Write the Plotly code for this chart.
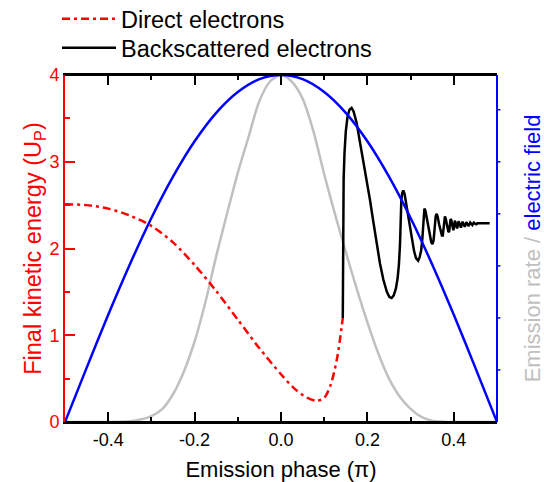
import plotly.graph_objects as go

# ---- data (left-axis units) ----
# Direct electrons: final kinetic energy (Up) vs emission phase (pi)
direct_phase = [-0.5, -0.45, -0.4, -0.35, -0.3, -0.25, -0.2, -0.15, -0.1, -0.05,
                0.0, 0.03, 0.06, 0.083, 0.1, 0.115, 0.13, 0.143]
direct_energy = [2.51, 2.50, 2.46, 2.38, 2.26, 2.07, 1.81, 1.51, 1.18, 0.85,
                 0.55, 0.39, 0.28, 0.245, 0.28, 0.43, 0.74, 1.20]

# Backscattered electrons
back_phase = [0.1430, 0.1432, 0.1438, 0.1450, 0.1470, 0.1500, 0.1540, 0.1585, 0.1635, 0.168,
              0.175, 0.183, 0.190, 0.198, 0.206, 0.214, 0.221, 0.229, 0.237, 0.245,
              0.251, 0.256, 0.261, 0.266, 0.270, 0.273, 0.2755, 0.2770, 0.2785, 0.2805,
              0.283, 0.2860, 0.2905, 0.296, 0.302, 0.308, 0.3125, 0.3175, 0.321, 0.3245,
              0.327, 0.3285, 0.3300, 0.332, 0.3345, 0.3375, 0.341, 0.3445, 0.348, 0.3507,
              0.353, 0.3548, 0.3565, 0.358, 0.360, 0.3625, 0.366, 0.3695, 0.3725, 0.3745,
              0.3765, 0.3780, 0.3795, 0.3815, 0.385, 0.3875, 0.3895, 0.391, 0.3925, 0.394,
              0.397, 0.399, 0.4005, 0.4025, 0.405, 0.4075, 0.409, 0.411, 0.4135, 0.4165,
              0.418, 0.4200, 0.4225, 0.4255, 0.427, 0.429, 0.4315, 0.4345, 0.436, 0.438,
              0.4405, 0.443, 0.4445, 0.4465, 0.449, 0.452, 0.455, 0.46, 0.47, 0.483]
back_energy = [1.20, 1.60, 2.30, 2.80, 3.10, 3.35, 3.52, 3.60, 3.62, 3.58,
               3.45, 3.23, 3.02, 2.80, 2.56, 2.30, 2.06, 1.83, 1.64, 1.50,
               1.44, 1.43, 1.46, 1.54, 1.66, 1.82, 2.05, 2.35, 2.55, 2.64,
               2.67, 2.63, 2.50, 2.30, 2.12, 1.97, 1.89, 1.86, 1.90, 1.98,
               2.10, 2.25, 2.38, 2.46, 2.43, 2.35, 2.24, 2.13, 2.07, 2.05,
               2.09, 2.18, 2.30, 2.37, 2.40, 2.37, 2.28, 2.20, 2.15, 2.15,
               2.24, 2.33, 2.37, 2.34, 2.25, 2.19, 2.20, 2.28, 2.34, 2.33,
               2.25, 2.21, 2.25, 2.32, 2.28, 2.23, 2.26, 2.315, 2.28, 2.24,
               2.27, 2.31, 2.28, 2.25, 2.275, 2.305, 2.28, 2.26, 2.28, 2.30,
               2.285, 2.27, 2.285, 2.298, 2.287, 2.28, 2.29, 2.29, 2.29, 2.29]

# Emission rate (drawn on the left scale, peak = 4)
rate_phase = [-0.5, -0.4, -0.375, -0.35, -0.325, -0.3, -0.275, -0.25, -0.225, -0.2,
              -0.175, -0.15, -0.125, -0.1, -0.075, -0.05, -0.025, 0.0, 0.025, 0.05,
              0.075, 0.1, 0.125, 0.15, 0.175, 0.2, 0.225, 0.25, 0.275, 0.3,
              0.325, 0.35, 0.375, 0.4, 0.5]
rate_value = [0.0, 0.0, 0.002, 0.008, 0.028, 0.068, 0.148, 0.32, 0.58, 0.928,
              1.38, 1.912, 2.40, 2.872, 3.288, 3.70, 3.928, 4.0, 3.924, 3.728,
              3.352, 2.856, 2.396, 1.96, 1.54, 1.148, 0.792, 0.50, 0.292, 0.152,
              0.06, 0.016, 0.004, 0.0, 0.0]

# Electric field (drawn on the left scale, peak = 4)
field_phase = [-0.5, -0.45, -0.4, -0.35, -0.3, -0.25, -0.2, -0.15, -0.1, -0.05, 0.0,
               0.05, 0.1, 0.15, 0.2, 0.25, 0.3, 0.35, 0.4, 0.45, 0.5]
field_value = [0.0, 0.624, 1.236, 1.816, 2.352, 2.828, 3.236, 3.564, 3.804, 3.952, 4.0,
               3.952, 3.804, 3.564, 3.236, 2.828, 2.352, 1.816, 1.236, 0.624, 0.0]

x_tickvals = [-0.4, -0.2, 0.0, 0.2, 0.4]
x_ticktext = ["-0.4", "-0.2", "0.0", "0.2", "0.4"]
right_tick_fracs = [0.15, 0.30, 0.45, 0.60, 0.75, 0.90]

RED = "#ff0000"
BLUE = "#0000ff"
GRAY = "#c0c0c0"
FONT = "Liberation Sans, Arial, sans-serif"

fig = go.Figure()

fig.add_trace(go.Scatter(x=rate_phase, y=rate_value, mode="lines",
                         line=dict(color=GRAY, width=2.5, shape="spline", smoothing=0.8),
                         showlegend=False, hoverinfo="skip"))
fig.add_trace(go.Scatter(x=direct_phase, y=direct_energy, mode="lines",
                         name="Direct electrons", legend="legend",
                         line=dict(color=RED, width=2.5, dash="8px,4px,3px,4px",
                                   shape="spline", smoothing=0.8)))
fig.add_trace(go.Scatter(x=back_phase, y=back_energy, mode="lines",
                         name="Backscattered electrons", legend="legend2",
                         line=dict(color="black", width=2.5)))
fig.add_trace(go.Scatter(x=field_phase, y=field_value, mode="lines",
                         line=dict(color=BLUE, width=2.5, shape="spline", smoothing=0.8),
                         showlegend=False, hoverinfo="skip"))

legend_common = dict(x=-0.0185, xanchor="left", yanchor="middle",
                     bgcolor="rgba(0,0,0,0)", font=dict(size=23.5, family=FONT),
                     itemwidth=54)

# frame: top (black) and right (blue) border plus small right-axis ticks
shapes = [
    dict(type="line", xref="paper", yref="paper", x0=0, x1=1, y0=1, y1=1,
         line=dict(color="black", width=2)),
    dict(type="line", xref="paper", yref="paper", x0=0, x1=1, y0=0, y1=0,
         line=dict(color="black", width=2)),
    dict(type="line", xref="paper", yref="paper", x0=1, x1=1, y0=0, y1=1,
         line=dict(color=BLUE, width=2)),
]
for f in right_tick_fracs:
    shapes.append(dict(type="line", xref="paper", yref="paper", x0=1, x1=1.008,
                       y0=f, y1=f, line=dict(color=BLUE, width=1.5)))

fig.update_layout(
    width=544, height=482, autosize=False,
    margin=dict(l=65, r=47, t=75, b=60, autoexpand=False),
    paper_bgcolor="white", plot_bgcolor="white",
    font=dict(family=FONT, size=18, color="black"),
    legend=dict(y=1.1614, **legend_common),
    legend2=dict(y=1.0778, **legend_common),
    shapes=shapes,
    xaxis=dict(range=[-0.5, 0.5], tickmode="array", tickvals=x_tickvals,
               ticktext=x_ticktext,
               ticks="inside", ticklen=10, tickwidth=2, tickcolor="black",
               minor=dict(tickmode="linear", tick0=0, dtick=0.1, ticks="inside",
                          ticklen=5, tickwidth=2, tickcolor="black"),
               showline=True, linecolor="black", linewidth=2, mirror="ticks",
               showgrid=False, zeroline=False, automargin=False,
               tickfont=dict(size=18, color="black"),
               title=dict(text="Emission phase (π)", font=dict(size=22, color="black"),
                          standoff=13)),
    yaxis=dict(range=[0, 4], tickmode="linear", tick0=0, dtick=1,
               ticks="inside", ticklen=10, tickwidth=2, tickcolor=RED,
               minor=dict(dtick=0.5, ticks="inside", ticklen=5, tickwidth=2,
                          tickcolor=RED),
               showline=True, linecolor=RED, linewidth=2,
               showgrid=False, zeroline=False, automargin=False,
               tickfont=dict(size=18, color=RED),
               title=dict(text="Final kinetic energy (U<sub>P</sub>)",
                          font=dict(size=23.5, color=RED), standoff=1)),
    annotations=[dict(text="<span style='color:#c0c0c0'>Emission rate / </span>"
                           "<span style='color:#0000ff'>electric field</span>",
                      xref="paper", yref="paper", x=1.083, y=0.5,
                      xanchor="center", yanchor="middle", textangle=-90,
                      showarrow=False, font=dict(size=22, color=BLUE, family=FONT))],
)

fig.write_html("out.html")
